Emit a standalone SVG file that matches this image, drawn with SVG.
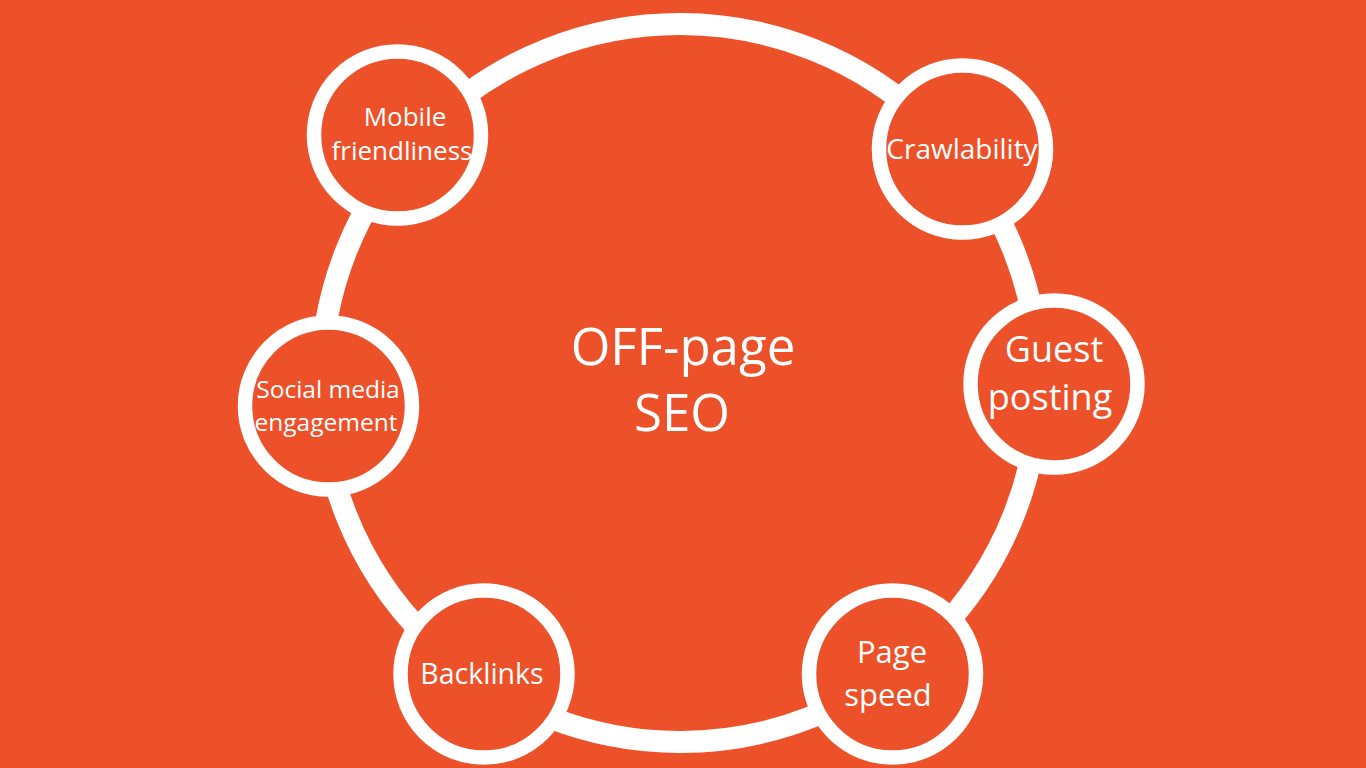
<svg xmlns="http://www.w3.org/2000/svg" width="1366" height="768" viewBox="0 0 1366 768">
<style>
.ring{fill:none;stroke:#ffffff;stroke-width:22}
.node{fill:#EC5129;stroke:#ffffff;stroke-width:14.5}
text{font-family:"Open Sans","Noto Sans",sans-serif;fill:#ffffff;text-anchor:middle}
</style>
<rect x="0" y="0" width="1366" height="768" fill="#EC5129"/>
<g id="connectors">
<circle class="ring" cx="680" cy="383" r="359"/>
</g>
<g id="center">
<text x="683" y="365" font-size="51">OFF-page</text>
<text x="682" y="431" font-size="51">SEO</text>
</g>
<g id="mobile">
<circle class="node" cx="397.5" cy="135" r="83.5"/>
<text x="405" y="126" font-size="26">Mobile</text>
<text x="402" y="160" font-size="26">friendliness</text>
</g>
<g id="crawlability">
<circle class="node" cx="962.5" cy="149" r="83.5"/>
<text x="962" y="159" font-size="28">Crawlability</text>
</g>
<g id="guest">
<circle class="node" cx="1054" cy="384" r="83.5"/>
<text x="1054" y="362" font-size="36">Guest</text>
<text x="1050" y="410" font-size="36">posting</text>
</g>
<g id="social">
<circle class="node" cx="328.5" cy="406" r="83.5"/>
<text x="328" y="398" font-size="24.5">Social media</text>
<text x="326" y="431" font-size="24.5">engagement</text>
</g>
<g id="backlinks">
<circle class="node" cx="484" cy="674" r="83.5"/>
<text x="482" y="684" font-size="28.5">Backlinks</text>
</g>
<g id="pagespeed">
<circle class="node" cx="892.5" cy="674" r="83.5"/>
<text x="892" y="663" font-size="31">Page</text>
<text x="888" y="706" font-size="31">speed</text>
</g>
</svg>
